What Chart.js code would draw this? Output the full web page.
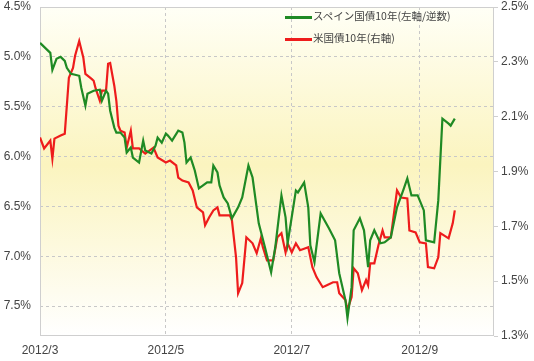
<!DOCTYPE html>
<html lang="ja">
<head>
<meta charset="UTF-8">
<title>スペイン国債と米国債</title>
<script src="https://cdn.jsdelivr.net/npm/chart.js"></script>
<style>
  body { margin: 0; background: #fff; }
  .wrap { position: relative; width: 534px; height: 361px; }
  .legend { position: absolute; left: 285px; font: 10.5px "Noto Sans CJK JP", sans-serif; color: #444; white-space: nowrap; line-height: 12px; }
  .legend i { display: inline-block; width: 27px; height: 3px; vertical-align: middle; margin-right: 1px; }
</style>
</head>
<body>
<div class="wrap">
  <canvas id="myChart"></canvas>
  <div class="legend" style="top:10px"><i style="background:#1f8a24"></i>スペイン国債10年(左軸/逆数)</div>
  <div class="legend" style="top:32px"><i style="background:#ee1c1c"></i>米国債10年(右軸)</div>
</div>
<script>
// days counted from 2012/3/1
const monthTicks = [0, 61, 122, 184];
const monthLabels = ['2012/3', '2012/5', '2012/7', '2012/9'];
const leftTicks = [4.5, 5.0, 5.5, 6.0, 6.5, 7.0, 7.5];
const rightTicks = [1.3, 1.5, 1.7, 1.9, 2.1, 2.3, 2.5];

// Spain 10y yield (left axis, reversed)
const spainDays = [0,5,6,8,10,12,13,15,17,19,20,22,23,26,29,30,32,33,34,36,37,39,41,42,44,45,48,50,51,54,56,57,59,61,62,64,67,69,70,71,73,75,77,79,81,83,84,86,87,89,91,93,96,98,101,103,106,109,112,114,117,119,120,124,125,128,130,131,133,136,140,143,145,148,149,151,152,155,157,159,160,162,165,167,170,173,176,178,180,183,186,187,191,193,195,198,199,201];
const spainYield = [4.86,4.96,5.13,5.02,5.00,5.04,5.11,5.17,5.18,5.19,5.31,5.49,5.37,5.34,5.33,5.44,5.34,5.37,5.54,5.71,5.76,5.76,5.81,5.96,5.91,6.01,6.06,5.84,5.94,5.97,5.89,5.81,5.86,5.77,5.79,5.84,5.74,5.76,5.86,6.06,6.01,6.14,6.32,6.29,6.26,6.26,6.09,6.16,6.29,6.41,6.47,6.62,6.51,6.41,6.09,6.21,6.67,6.91,7.16,6.91,6.39,6.61,6.87,6.34,6.36,6.26,6.51,6.89,7.06,6.57,6.72,6.84,7.17,7.44,7.62,7.31,6.74,6.62,6.74,7.11,6.84,6.74,6.87,6.86,6.81,6.51,6.34,6.22,6.39,6.39,6.54,6.84,6.86,6.44,5.62,5.67,5.69,5.62];

// US 10y yield (right axis)
const usDays = [0,2,5,6,7,10,12,14,16,17,19,21,22,25,26,27,29,30,32,33,34,36,37,38,39,41,42,44,45,48,51,55,57,61,63,66,67,69,72,74,76,79,80,82,84,86,87,92,93,95,96,98,100,103,105,107,108,110,113,115,117,119,120,122,124,126,130,132,134,137,139,142,144,145,148,149,151,152,154,156,158,159,160,162,164,166,167,170,173,175,178,179,182,184,187,188,191,193,194,198,200,201];
const usYield = [2.024,1.984,2.013,1.947,2.020,2.031,2.038,2.242,2.278,2.322,2.376,2.315,2.256,2.238,2.231,2.202,2.158,2.195,2.195,2.293,2.296,2.213,2.158,2.067,2.049,2.042,1.987,2.049,1.984,1.984,1.965,1.987,1.951,1.933,1.940,1.922,1.878,1.867,1.860,1.831,1.769,1.751,1.704,1.733,1.758,1.769,1.740,1.740,1.722,1.587,1.456,1.493,1.660,1.638,1.602,1.656,1.624,1.576,1.576,1.660,1.675,1.605,1.638,1.605,1.638,1.613,1.624,1.551,1.515,1.478,1.485,1.496,1.496,1.456,1.431,1.395,1.442,1.547,1.529,1.467,1.504,1.485,1.565,1.565,1.631,1.685,1.660,1.660,1.831,1.805,1.802,1.685,1.678,1.642,1.638,1.551,1.547,1.587,1.675,1.656,1.711,1.758];

const toPoints = (xs, ys) => xs.map((x, i) => ({ x: x, y: ys[i] }));

// yellow gradient behind the plot + grey frame
const plotBackground = {
  id: 'plotBackground',
  beforeDraw(chart) {
    const { ctx, chartArea: a } = chart;
    const g = ctx.createLinearGradient(0, a.top, 0, a.bottom);
    g.addColorStop(0, '#fffff6');
    g.addColorStop(0.48, '#fbf4bf');
    g.addColorStop(1, '#ffffff');
    ctx.save();
    ctx.fillStyle = g;
    ctx.fillRect(a.left, a.top, a.right - a.left, a.bottom - a.top);
    ctx.restore();
  },
  beforeDatasetsDraw(chart) {
    const { ctx, chartArea: a } = chart;
    ctx.save();
    ctx.strokeStyle = '#cfcfcf';
    ctx.lineWidth = 1;
    ctx.strokeRect(a.left + 0.5, a.top + 0.5, a.right - a.left - 1, a.bottom - a.top - 1);
    ctx.restore();
  }
};

const tickFont = { family: '"Liberation Sans", Arial, sans-serif', size: 12 };

// keep the plot edges where the picture has them
function fixY(s) {
  s.width = 40;
  s.paddingTop = 7;
  s.paddingBottom = 0;
}

const config = {
  type: 'line',
  data: {
    datasets: [
      {
        label: 'スペイン国債10年(左軸/逆数)',
        data: toPoints(spainDays, spainYield),
        borderColor: '#1f8a24',
        borderWidth: 2.2,
        pointRadius: 0,
        tension: 0,
        yAxisID: 'yLeft'
      },
      {
        label: '米国債10年(右軸)',
        data: toPoints(usDays, usYield),
        borderColor: '#ee1c1c',
        borderWidth: 2.2,
        pointRadius: 0,
        tension: 0,
        yAxisID: 'yRight'
      }
    ]
  },
  options: {
    responsive: true,
    maintainAspectRatio: false,
    animation: false,
    layout: { padding: 0 },
    plugins: { legend: { display: false }, tooltip: { enabled: false } },
    scales: {
      x: {
        type: 'linear',
        min: 0,
        max: 220,
        afterBuildTicks: s => { s.ticks = monthTicks.map(v => ({ value: v })); },
        afterFit: s => { s.height = 25; s.paddingLeft = 0; s.paddingRight = 0; },
        ticks: {
          padding: 7,
          color: '#444',
          font: tickFont,
          maxRotation: 0,
          callback: v => monthLabels[monthTicks.indexOf(v)]
        },
        grid: { color: '#c8c8c8', drawTicks: false },
        border: { display: false, dash: [3, 3] }
      },
      yLeft: {
        position: 'left',
        reverse: true,
        min: 4.5,
        max: 7.8,
        afterBuildTicks: s => { s.ticks = leftTicks.map(v => ({ value: v })); },
        afterFit: fixY,
        ticks: {
          padding: 9,
          color: '#444',
          font: tickFont,
          callback: v => v.toFixed(1) + '%'
        },
        grid: { color: '#c8c8c8', drawTicks: false },
        border: { display: false, dash: [3, 3] }
      },
      yRight: {
        position: 'right',
        min: 1.3,
        max: 2.5,
        afterBuildTicks: s => { s.ticks = rightTicks.map(v => ({ value: v })); },
        afterFit: fixY,
        ticks: {
          padding: 3,
          color: '#444',
          font: tickFont,
          callback: v => v.toFixed(1) + '%'
        },
        grid: { drawOnChartArea: false, color: '#cfcfcf', tickLength: 4 },
        border: { display: false }
      }
    }
  },
  plugins: [plotBackground]
};

const myChart = new Chart(document.getElementById('myChart'), config);
</script>
</body>
</html>
